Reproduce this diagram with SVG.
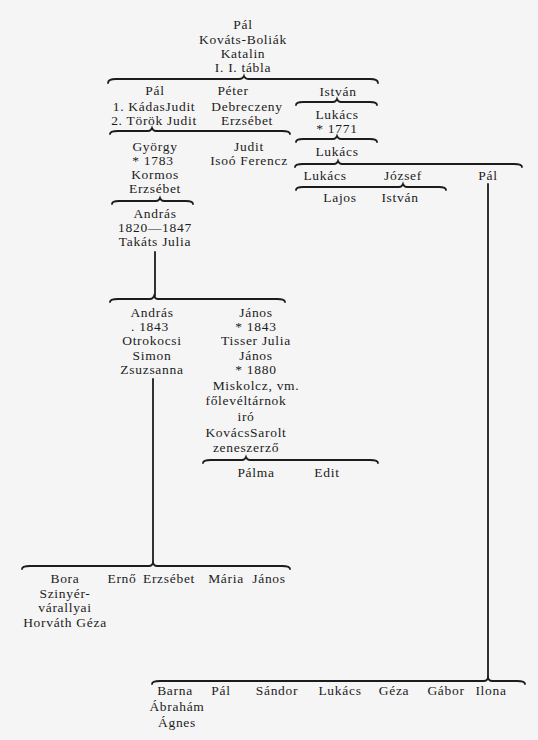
<svg xmlns="http://www.w3.org/2000/svg" width="538" height="740" viewBox="0 0 538 740">
<style>
text{font-family:"Liberation Serif","DejaVu Serif",serif;font-size:13.5px;fill:#1c1c1c;text-anchor:middle;letter-spacing:0.7px}
.c path,.c line{fill:none;stroke:#1c1c1c;stroke-width:1.8;stroke-linecap:round}
</style>
<rect width="538" height="740" fill="#f5f5f5"/>
<g class="c" id="connectors">
<path d="M108,83 Q108,79 116,79 L239,79 Q243,79 244,76 Q245,79 249,79 L370,79 Q378,79 378,83"/>
<path d="M296,105 Q296,102 303,102 L333,102 Q336,102 337,99 Q338,102 341,102 L370,102 Q377,102 377,105"/>
<path d="M296,142 Q296,139 303,139 L333,139 Q336,139 337,136 Q338,139 341,139 L370,139 Q377,139 377,142"/>
<path d="M295,167 Q295,164 303,164 L334,164 Q337,164 338,161 Q339,164 342,164 L514,164 Q522,164 522,167"/>
<path d="M296,190 Q296,187 303,187 L399,187 Q402,187 403,184 Q404,187 407,187 L439,187 Q446,187 446,190"/>
<line x1="488" y1="184" x2="488" y2="678"/>
<path d="M110,134 Q110,131 118,131 L148,131 Q151,131 152,128 Q153,131 156,131 L282,131 Q290,131 290,134"/>
<path d="M112,204 Q112,201 119,201 L156,201 Q159,201 160,198 Q161,201 164,201 L186,201 Q193,201 193,204"/>
<line x1="155" y1="252" x2="155" y2="296"/>
<path d="M110,302 Q110,299 118,299 L150,299 Q153,299 154,296 Q155,299 158,299 L277,299 Q285,299 285,302"/>
<line x1="153" y1="379" x2="153" y2="563"/>
<path d="M203,463 Q203,460 211,460 L242,460 Q245,460 246,457 Q247,460 250,460 L370,460 Q378,460 378,463"/>
<path d="M22,569 Q22,566 30,566 L149,566 Q152,566 153,563 Q154,566 157,566 L282,566 Q290,566 290,569"/>
<path d="M152,684 Q152,681 160,681 L484,681 Q487,681 488,678 Q489,681 492,681 L517,681 Q525,681 525,684"/>
</g>
<g id="n_pal_root"><text x="243" y="29">Pál</text><text x="243" y="44">Kováts-Boliák</text><text x="243" y="58">Katalin</text><text x="243" y="72">I. I. tábla</text></g>
<g id="n_pal1"><text x="155" y="95">Pál</text><text x="154" y="111">1. KádasJudit</text><text x="154" y="125">2. Török Judit</text></g>
<g id="n_peter"><text x="233" y="95">Péter</text><text x="247" y="111">Debreczeny</text><text x="247" y="125">Erzsébet</text></g>
<g id="n_istvan"><text x="338" y="96">István</text></g>
<g id="n_lukacs1"><text x="337" y="119">Lukács</text><text x="337" y="133">* 1771</text></g>
<g id="n_lukacs2"><text x="337" y="156">Lukács</text></g>
<g id="n_lukacs3"><text x="325" y="180">Lukács</text></g>
<g id="n_jozsef"><text x="403" y="180">József</text></g>
<g id="n_pal2"><text x="488" y="180">Pál</text></g>
<g id="n_lajos"><text x="340" y="202">Lajos</text></g>
<g id="n_istvan2"><text x="400" y="202">István</text></g>
<g id="n_gyorgy"><text x="155" y="151">György</text><text x="153" y="165">* 1783</text><text x="155" y="179">Kormos</text><text x="155" y="193">Erzsébet</text></g>
<g id="n_judit"><text x="249" y="151">Judit</text><text x="249" y="165">Isoó Ferencz</text></g>
<g id="n_andras1"><text x="155" y="218">András</text><text x="155" y="232">1820—1847</text><text x="155" y="246">Takáts Julia</text></g>
<g id="n_andras2"><text x="152" y="317">András</text><text x="150" y="331">. 1843</text><text x="152" y="345">Otrokocsi</text><text x="152" y="360">Simon</text><text x="152" y="374">Zsuzsanna</text></g>
<g id="n_janos1"><text x="256" y="317">János</text><text x="256" y="331">* 1843</text><text x="256" y="345">Tisser Julia</text><text x="256" y="360">János</text><text x="256" y="374">* 1880</text><text x="256" y="390">Miskolcz, vm.</text><text x="246" y="405">főlevéltárnok</text><text x="246" y="421">iró</text><text x="246" y="437">KovácsSarolt</text><text x="246" y="452">zeneszerző</text></g>
<g id="n_palma"><text x="256" y="477">Pálma</text></g>
<g id="n_edit"><text x="327" y="477">Edit</text></g>
<g id="n_bora"><text x="65" y="583">Bora</text><text x="65" y="598">Szinyér-</text><text x="65" y="612">várallyai</text><text x="65" y="627">Horváth Géza</text></g>
<g id="n_erno"><text x="122" y="583">Ernő</text></g>
<g id="n_erzsebet"><text x="169" y="583">Erzsébet</text></g>
<g id="n_maria"><text x="226" y="583">Mária</text></g>
<g id="n_janos2"><text x="269" y="583">János</text></g>
<g id="n_barna"><text x="175" y="695">Barna</text><text x="177" y="711">Ábrahám</text><text x="177" y="727">Ágnes</text></g>
<g id="n_pal3"><text x="221" y="695">Pál</text></g>
<g id="n_sandor"><text x="277" y="695">Sándor</text></g>
<g id="n_lukacs4"><text x="340" y="695">Lukács</text></g>
<g id="n_geza"><text x="394" y="695">Géza</text></g>
<g id="n_gabor"><text x="446" y="695">Gábor</text></g>
<g id="n_ilona"><text x="491" y="695">Ilona</text></g>
</svg>
